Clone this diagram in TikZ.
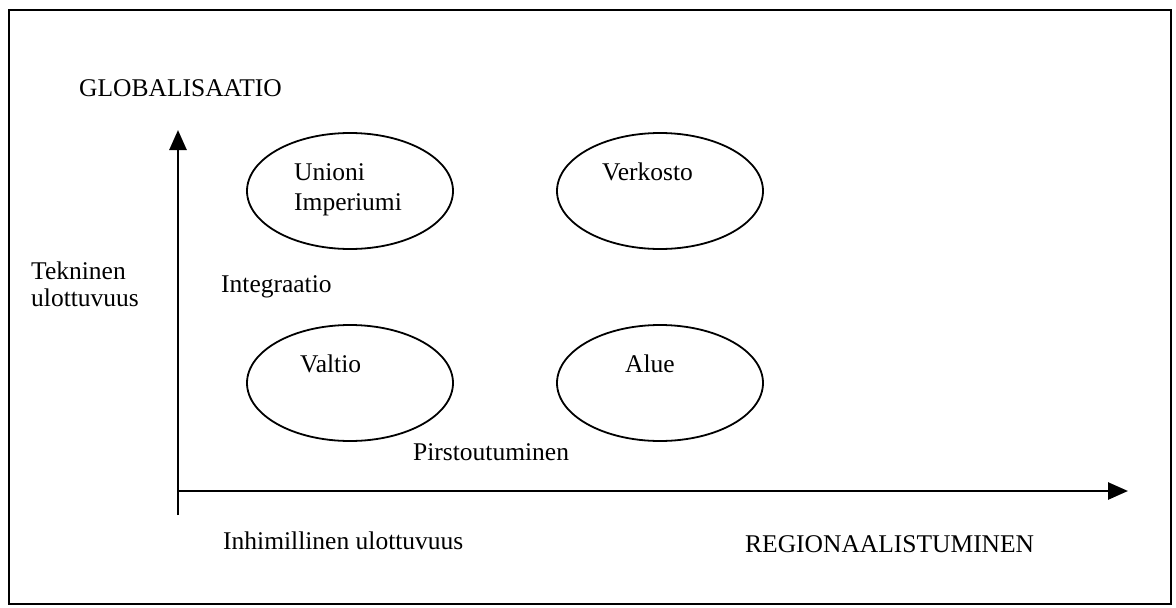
\documentclass[tikz,border=0pt]{standalone}
\usepackage{fontspec}
\setmainfont{Liberation Serif}
\usetikzlibrary{arrows.meta,shapes.geometric}
\begin{document}
\begin{tikzpicture}[x=1pt,y=-1pt,
  lbl/.style={anchor=base west,inner sep=0pt,font=\fontsize{25.5}{30}\selectfont},
  blob/.style={draw,line width=1.8pt,ellipse,minimum width=206pt,minimum height=116pt,inner sep=0pt},
  axis/.style={line width=2.6pt,-{Triangle[length=20pt,width=17pt]}}]
\useasboundingbox (0,0) rectangle (1176,608);
\draw[line width=2pt] (9,10) rectangle (1171,604);

% axes
\coordinate (o) at (178,491);
\coordinate (ybot) at (178,515);
\coordinate (ytop) at (178,130);
\coordinate (xend) at (1128,491);
\draw[axis] (ybot) -- (ytop);
\draw[axis] (o) -- (xend);

% ellipses
\node[blob] (e1) at (350,191) {};
\node[blob] (e2) at (660,191) {};
\node[blob] (e3) at (350,383) {};
\node[blob] (e4) at (660,383) {};

% labels
\node[lbl] (glob) at (79,96) {GLOBALISAATIO};
\node[lbl] (tek1) at (31,279) {Tekninen};
\node[lbl] (tek2) at (31,306) {ulottuvuus};
\node[lbl] (integ) at (221,292) {Integraatio};
\node[lbl] (uni) at (294,180) {Unioni};
\node[lbl] (imp) at (294,210) {Imperiumi};
\node[lbl] (verk) at (602,180) {Verkosto};
\node[lbl] (valt) at (300,372) {Valtio};
\node[lbl] (alue) at (625,372) {Alue};
\node[lbl] (pirs) at (413,460) {Pirstoutuminen};
\node[lbl] (inh) at (223,549) {Inhimillinen ulottuvuus};
\node[lbl] (reg) at (745,552) {REGIONAALISTUMINEN};
\end{tikzpicture}
\end{document}
